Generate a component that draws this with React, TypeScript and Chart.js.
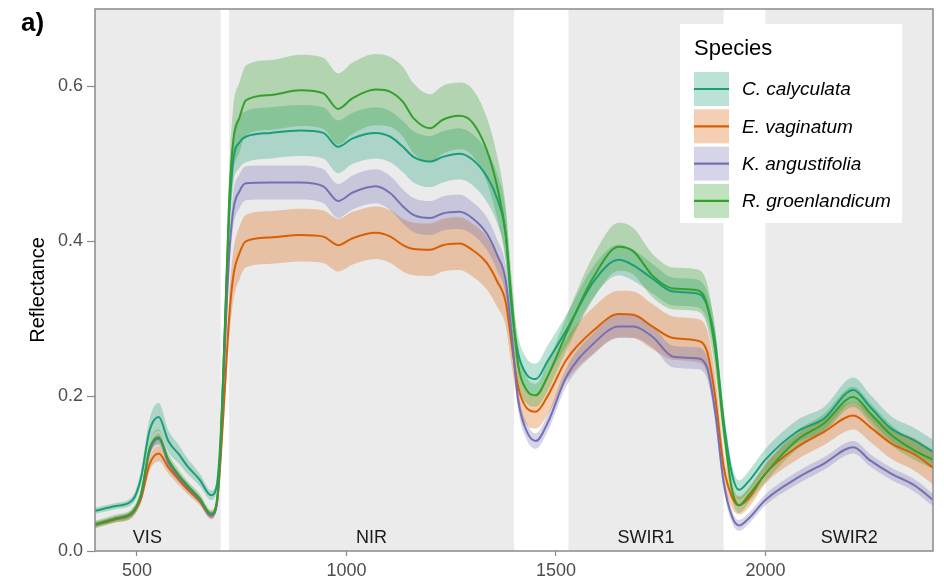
import React, { useEffect, useRef } from "react";
import { Chart, registerables } from "chart.js";

Chart.register(...registerables);

// Wavelength (nm)
const wavelengths = [400, 450, 490, 510, 530, 552, 575, 600, 620, 650, 677, 690, 700, 710, 720, 730, 745, 760, 820, 890, 945, 980, 1015, 1070, 1105, 1135, 1160, 1200, 1230, 1270, 1300, 1335, 1360, 1380, 1395, 1410, 1430, 1452, 1480, 1525, 1590, 1650, 1685, 1730, 1780, 1835, 1860, 1880, 1900, 1920, 1937, 1960, 2000, 2075, 2140, 2210, 2250, 2300, 2355, 2400];

// Mean reflectance per species
const cCalyculata = [0.052, 0.058, 0.066, 0.095, 0.155, 0.173, 0.142, 0.125, 0.110, 0.092, 0.072, 0.083, 0.15, 0.29, 0.43, 0.505, 0.528, 0.535, 0.540, 0.543, 0.540, 0.522, 0.533, 0.540, 0.535, 0.522, 0.509, 0.503, 0.509, 0.513, 0.506, 0.484, 0.455, 0.410, 0.31, 0.255, 0.228, 0.222, 0.245, 0.285, 0.348, 0.376, 0.369, 0.352, 0.335, 0.333, 0.318, 0.27, 0.17, 0.10, 0.079, 0.090, 0.118, 0.154, 0.171, 0.208, 0.186, 0.158, 0.143, 0.128];
const eVaginatum = [0.034, 0.041, 0.049, 0.068, 0.112, 0.126, 0.108, 0.092, 0.080, 0.064, 0.046, 0.058, 0.12, 0.21, 0.30, 0.355, 0.385, 0.400, 0.405, 0.408, 0.406, 0.395, 0.404, 0.411, 0.406, 0.395, 0.390, 0.389, 0.395, 0.397, 0.389, 0.372, 0.348, 0.322, 0.265, 0.212, 0.185, 0.180, 0.200, 0.247, 0.285, 0.306, 0.305, 0.290, 0.275, 0.272, 0.259, 0.20, 0.11, 0.07, 0.059, 0.068, 0.100, 0.134, 0.154, 0.175, 0.160, 0.139, 0.125, 0.108];
const kAngustifolia = [0.034, 0.042, 0.050, 0.072, 0.128, 0.145, 0.115, 0.095, 0.083, 0.066, 0.046, 0.058, 0.13, 0.26, 0.38, 0.44, 0.465, 0.475, 0.476, 0.476, 0.471, 0.452, 0.463, 0.471, 0.462, 0.445, 0.434, 0.430, 0.436, 0.438, 0.430, 0.410, 0.382, 0.350, 0.275, 0.195, 0.155, 0.142, 0.165, 0.225, 0.268, 0.290, 0.290, 0.277, 0.251, 0.249, 0.238, 0.18, 0.09, 0.045, 0.033, 0.042, 0.066, 0.094, 0.113, 0.134, 0.117, 0.100, 0.085, 0.066];
const rGroenlandicum = [0.034, 0.042, 0.050, 0.074, 0.132, 0.147, 0.118, 0.098, 0.085, 0.068, 0.048, 0.062, 0.14, 0.29, 0.45, 0.53, 0.560, 0.582, 0.589, 0.595, 0.591, 0.571, 0.585, 0.596, 0.593, 0.580, 0.559, 0.546, 0.557, 0.562, 0.554, 0.518, 0.470, 0.410, 0.32, 0.240, 0.208, 0.201, 0.225, 0.281, 0.354, 0.393, 0.387, 0.356, 0.339, 0.337, 0.320, 0.26, 0.16, 0.08, 0.059, 0.072, 0.100, 0.143, 0.165, 0.199, 0.178, 0.150, 0.130, 0.118];

// Standard deviation (ribbon half-width) per species
const cCalyculataSd = [0.004, 0.004, 0.005, 0.009, 0.015, 0.018, 0.014, 0.012, 0.010, 0.008, 0.006, 0.006, 0.010, 0.020, 0.028, 0.032, 0.033, 0.033, 0.033, 0.033, 0.033, 0.034, 0.033, 0.033, 0.033, 0.033, 0.033, 0.033, 0.033, 0.033, 0.033, 0.033, 0.032, 0.030, 0.026, 0.022, 0.021, 0.020, 0.020, 0.020, 0.020, 0.020, 0.020, 0.019, 0.018, 0.018, 0.018, 0.018, 0.015, 0.012, 0.012, 0.013, 0.014, 0.015, 0.015, 0.016, 0.016, 0.016, 0.016, 0.016];
const eVaginatumSd = [0.004, 0.004, 0.005, 0.006, 0.009, 0.010, 0.008, 0.007, 0.006, 0.005, 0.005, 0.005, 0.010, 0.020, 0.028, 0.032, 0.034, 0.034, 0.034, 0.034, 0.034, 0.034, 0.034, 0.034, 0.034, 0.034, 0.034, 0.034, 0.034, 0.034, 0.034, 0.034, 0.033, 0.031, 0.028, 0.024, 0.022, 0.022, 0.024, 0.027, 0.030, 0.030, 0.030, 0.029, 0.028, 0.028, 0.028, 0.026, 0.020, 0.014, 0.012, 0.012, 0.013, 0.016, 0.017, 0.018, 0.019, 0.020, 0.021, 0.022];
const kAngustifoliaSd = [0.003, 0.003, 0.004, 0.005, 0.006, 0.007, 0.006, 0.005, 0.005, 0.004, 0.004, 0.004, 0.008, 0.015, 0.020, 0.022, 0.022, 0.022, 0.022, 0.022, 0.022, 0.022, 0.022, 0.022, 0.022, 0.022, 0.022, 0.022, 0.022, 0.022, 0.021, 0.021, 0.020, 0.019, 0.016, 0.013, 0.011, 0.010, 0.011, 0.012, 0.014, 0.015, 0.015, 0.014, 0.014, 0.014, 0.014, 0.013, 0.010, 0.008, 0.007, 0.007, 0.007, 0.008, 0.008, 0.008, 0.008, 0.008, 0.008, 0.008];
const rGroenlandicumSd = [0.005, 0.005, 0.006, 0.007, 0.009, 0.010, 0.008, 0.007, 0.006, 0.006, 0.005, 0.006, 0.012, 0.025, 0.038, 0.043, 0.045, 0.045, 0.045, 0.046, 0.046, 0.046, 0.046, 0.046, 0.045, 0.045, 0.045, 0.044, 0.044, 0.043, 0.043, 0.042, 0.040, 0.036, 0.030, 0.022, 0.017, 0.015, 0.018, 0.022, 0.028, 0.031, 0.030, 0.028, 0.027, 0.027, 0.027, 0.025, 0.018, 0.012, 0.010, 0.010, 0.011, 0.012, 0.012, 0.013, 0.013, 0.013, 0.012, 0.012];

const speciesNames = ["C. calyculata", "E. vaginatum", "K. angustifolia", "R. groenlandicum"];
const speciesMeans = [cCalyculata, eVaginatum, kAngustifolia, rGroenlandicum];
const speciesSds = [cCalyculataSd, eVaginatumSd, kAngustifoliaSd, rGroenlandicumSd];
const lineColors = ["#1b9e77", "#d95f02", "#7570b3", "#33a02c"];
const ribbonColors = ["rgba(27,158,119,0.3)", "rgba(217,95,2,0.3)", "rgba(117,112,179,0.3)", "rgba(51,160,44,0.3)"];

// Spectral regions
const regionNames = ["VIS", "NIR", "SWIR1", "SWIR2"];
const regionStart = [350, 720, 1530, 2000];
const regionEnd = [700, 1400, 1900, 2500];
const regionLabelX = [525, 1060, 1715, 2200];
const regionLabelY = 0.017;

const xTicks = [500, 1000, 1500, 2000];
const yTicks = [0, 0.2, 0.4, 0.6];

const FONT = "'Liberation Sans', Arial, Helvetica, sans-serif";

const regionsPlugin = {
  id: "regions",
  beforeDatasetsDraw(chart: any) {
    const { ctx, chartArea, scales } = chart;
    const xs = scales.x;
    const ys = scales.y;
    ctx.save();
    ctx.fillStyle = "#ebebeb";
    for (let i = 0; i < regionNames.length; i++) {
      const x0 = Math.max(xs.getPixelForValue(regionStart[i]), chartArea.left);
      const x1 = Math.min(xs.getPixelForValue(regionEnd[i]), chartArea.right);
      ctx.fillRect(x0, chartArea.top, x1 - x0, chartArea.bottom - chartArea.top);
    }
    ctx.fillStyle = "#1a1a1a";
    ctx.font = `18px ${FONT}`;
    ctx.textAlign = "center";
    ctx.textBaseline = "middle";
    for (let i = 0; i < regionNames.length; i++) {
      ctx.fillText(regionNames[i], xs.getPixelForValue(regionLabelX[i]), ys.getPixelForValue(regionLabelY));
    }
    ctx.restore();
  },
  afterDraw(chart: any) {
    const { ctx, chartArea } = chart;
    ctx.save();
    // panel border
    ctx.strokeStyle = "#8a8a8a";
    ctx.lineWidth = 1.5;
    ctx.strokeRect(chartArea.left, chartArea.top, chartArea.right - chartArea.left, chartArea.bottom - chartArea.top);

    // y axis title
    ctx.save();
    ctx.translate(38, (chartArea.top + chartArea.bottom) / 2 + 10);
    ctx.rotate(-Math.PI / 2);
    ctx.fillStyle = "#000";
    ctx.font = `20px ${FONT}`;
    ctx.textAlign = "center";
    ctx.textBaseline = "middle";
    ctx.fillText("Reflectance", 0, 0);
    ctx.restore();

    // panel tag
    ctx.fillStyle = "#000";
    ctx.font = `bold 26px ${FONT}`;
    ctx.textAlign = "left";
    ctx.textBaseline = "middle";
    ctx.fillText("a)", 21, 24);

    // legend
    const bx = chartArea.right - 253;
    const by = chartArea.top + 15;
    const bw = 222;
    const bh = 199;
    ctx.fillStyle = "#ffffff";
    ctx.fillRect(bx, by, bw, bh);
    ctx.fillStyle = "#000";
    ctx.font = `22px ${FONT}`;
    ctx.textBaseline = "middle";
    ctx.fillText("Species", bx + 14, by + 25);
    for (let i = 0; i < speciesNames.length; i++) {
      const cy = by + 65 + i * 37.3;
      const kx = bx + 14;
      ctx.fillStyle = "#ffffff";
      ctx.fillRect(kx, cy - 17, 35, 34);
      ctx.fillStyle = ribbonColors[i];
      ctx.fillRect(kx, cy - 17, 35, 34);
      ctx.strokeStyle = lineColors[i];
      ctx.lineWidth = 2.2;
      ctx.beginPath();
      ctx.moveTo(kx, cy);
      ctx.lineTo(kx + 35, cy);
      ctx.stroke();
      ctx.fillStyle = "#000";
      ctx.font = `italic 19px ${FONT}`;
      ctx.fillText(speciesNames[i], kx + 48, cy + 1);
    }
    ctx.restore();
  },
};

export default function App() {
  const canvasRef = useRef<HTMLCanvasElement | null>(null);

  useEffect(() => {
    const canvas = canvasRef.current;
    if (!canvas) return;

    const datasets: any[] = [];
    for (let s = 0; s < speciesNames.length; s++) {
      const mean = speciesMeans[s];
      const sd = speciesSds[s];
      datasets.push({
        label: speciesNames[s] + " upper",
        data: wavelengths.map((w, i) => ({ x: w, y: mean[i] + sd[i] })),
        borderWidth: 0,
        borderColor: "rgba(0,0,0,0)",
        backgroundColor: ribbonColors[s],
        pointRadius: 0,
        fill: "+1",
        cubicInterpolationMode: "monotone",
        order: 20 - s * 2,
      });
      datasets.push({
        label: speciesNames[s] + " lower",
        data: wavelengths.map((w, i) => ({ x: w, y: mean[i] - sd[i] })),
        borderWidth: 0,
        borderColor: "rgba(0,0,0,0)",
        pointRadius: 0,
        fill: false,
        cubicInterpolationMode: "monotone",
        order: 20 - s * 2,
      });
    }
    for (let s = 0; s < speciesNames.length; s++) {
      datasets.push({
        label: speciesNames[s],
        data: wavelengths.map((w, i) => ({ x: w, y: speciesMeans[s][i] })),
        borderColor: lineColors[s],
        borderWidth: 2,
        pointRadius: 0,
        fill: false,
        cubicInterpolationMode: "monotone",
        order: 5 - s,
      });
    }

    const chart = new Chart(canvas, {
      type: "line",
      data: { datasets },
      options: {
        animation: false,
        responsive: false,
        devicePixelRatio: 1,
        layout: { padding: { left: 0, top: 9, right: 11, bottom: 0 } },
        plugins: {
          legend: { display: false },
          tooltip: { enabled: false },
        },
        scales: {
          x: {
            type: "linear",
            min: 400,
            max: 2400,
            afterFit: (scale: any) => {
              scale.height = 31;
              scale.paddingLeft = 0;
              scale.paddingRight = 0;
            },
            afterBuildTicks: (scale: any) => {
              scale.ticks = xTicks.map((v) => ({ value: v }));
            },
            grid: { drawOnChartArea: false, drawTicks: true, tickLength: 5, tickColor: "#8a8a8a", tickWidth: 1.2 },
            border: { display: false },
            ticks: {
              color: "#4d4d4d",
              font: { family: FONT, size: 18 },
              padding: 4,
              maxRotation: 0,
              callback: (v: any) => String(v),
            },
          },
          y: {
            type: "linear",
            min: 0,
            max: 0.7,
            afterFit: (scale: any) => {
              scale.width = 95;
              scale.paddingTop = 0;
              scale.paddingBottom = 0;
            },
            afterBuildTicks: (scale: any) => {
              scale.ticks = yTicks.map((v) => ({ value: v }));
            },
            grid: { drawOnChartArea: false, drawTicks: true, tickLength: 8, tickColor: "#8a8a8a", tickWidth: 1.2 },
            border: { display: false },
            ticks: {
              color: "#4d4d4d",
              font: { family: FONT, size: 18 },
              padding: 4,
              callback: (v: any) => Number(v).toFixed(1),
            },
          },
        },
      },
      plugins: [regionsPlugin],
    });

    return () => {
      chart.destroy();
    };
  }, []);

  return (
    <div style={{ position: "fixed", left: 0, top: 0, width: 944, height: 582, background: "#fff" }}>
      <canvas ref={canvasRef} width={944} height={582} style={{ display: "block" }} />
    </div>
  );
}
